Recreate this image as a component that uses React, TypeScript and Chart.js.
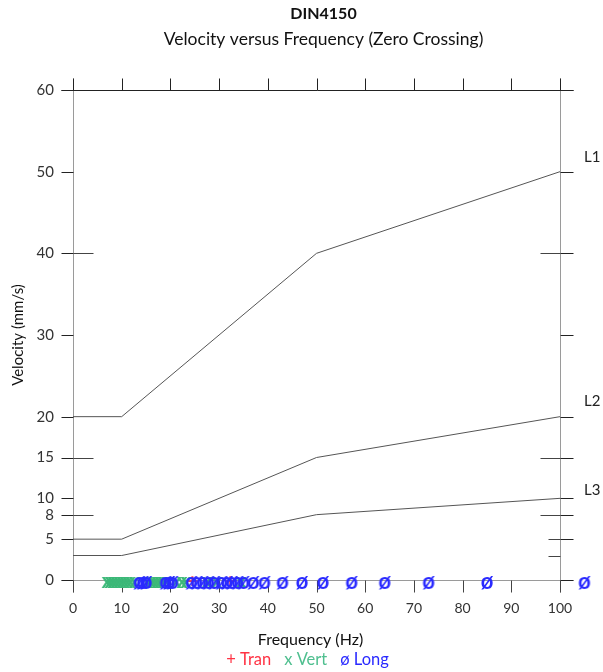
import React, { useEffect, useRef } from 'react';
import { Chart, registerables } from 'chart.js';

Chart.register(...registerables);

const FONT = 'Lato';

const FREQ_BREAKS = [0, 10, 50, 100];
const L1 = [20, 20, 40, 50];
const L2 = [5, 5, 15, 20];
const L3 = [3, 3, 8, 10];
const LIMIT_NAMES = ['L1', 'L2', 'L3'];

const Y_TICKS = [0, 5, 8, 10, 15, 20, 30, 40, 50, 60];
const X_TICKS = [0, 10, 20, 30, 40, 50, 60, 70, 80, 90, 100];
const INNER_LONG_TICKS = [8, 15, 40];
const RIGHT_SHORT_TICKS = [3, 5];

const TRAN_FREQ = [24.5, 32.3];
const VERT_FREQ = [7, 7.6, 8.2, 8.8, 9.4, 10, 10.6, 11.2, 11.8, 12.6, 15.2, 16, 16.6, 17.2, 17.8, 18.4, 19.2, 21.2, 22.4, 23.2, 27.5, 29.5, 34.5];
const LONG_FREQ = [13.6, 14.3, 15, 19, 19.7, 20.4, 24.3, 25.4, 26.6, 27.8, 29, 30.5, 31.6, 32.6, 33.8, 35, 37, 39.3, 43, 47, 51.3, 57.2, 64, 73, 85, 105];

const TRAN_COLOR = '#ff3344';
const VERT_COLOR = '#3cb878';
const LONG_COLOR = '#2a2aff';

function makeGlyph(ch: string, color: string, font: string, dy: number) {
  const c = document.createElement('canvas');
  c.width = 20;
  c.height = 26;
  const g = c.getContext('2d')!;
  g.font = font;
  g.fillStyle = color;
  g.textAlign = 'center';
  g.textBaseline = 'middle';
  g.fillText(ch, 10, 13 + dy);
  return c;
}

const framePlugin = {
  id: 'frame',
  beforeDatasetsDraw(chart: any) {
    const ctx = chart.ctx;
    const xs = chart.scales.x;
    const ys = chart.scales.y;
    const r = (v: number) => Math.round(v) + 0.5;
    const left = r(xs.getPixelForValue(0));
    const right = r(xs.getPixelForValue(100));
    const top = r(ys.getPixelForValue(60));
    const bottom = r(ys.getPixelForValue(0));
    const line = (x1: number, y1: number, x2: number, y2: number, color: string) => {
      ctx.beginPath();
      ctx.strokeStyle = color;
      ctx.lineWidth = 1;
      ctx.moveTo(x1, y1);
      ctx.lineTo(x2, y2);
      ctx.stroke();
    };
    ctx.save();
    const gray = '#9a9a9a';
    const dark = '#222';
    line(left, top - 12, left, bottom + 12, gray);
    line(right, top - 12, right, bottom + 12, gray);
    line(left - 12, bottom, right + 13, bottom, gray);
    line(left - 12, top, right + 13, top, dark);
    X_TICKS.forEach((v) => {
      const px = r(xs.getPixelForValue(v));
      line(px, bottom, px, bottom + 12, '#444');
      if (v !== 0 && v !== 100) line(px, top, px, top - 12, dark);
    });
    line(left, top, left, top - 12, dark);
    line(right, top, right, top - 12, dark);
    Y_TICKS.forEach((v) => {
      const py = r(ys.getPixelForValue(v));
      line(left - 12, py, left, py, dark);
      line(right, py, right + 13, py, dark);
    });
    INNER_LONG_TICKS.forEach((v) => {
      const py = r(ys.getPixelForValue(v));
      line(left, py, left + 20, py, '#444');
      line(right - 20, py, right, py, '#444');
    });
    RIGHT_SHORT_TICKS.forEach((v) => {
      const py = r(ys.getPixelForValue(v));
      line(right - 12, py, right, py, '#444');
    });
    ctx.restore();
  },
  afterDraw(chart: any) {
    const ctx = chart.ctx;
    const xs = chart.scales.x;
    const ys = chart.scales.y;
    const ca = chart.chartArea;
    const cx = (ca.left + ca.right) / 2;
    ctx.save();
    ctx.textBaseline = 'middle';
    ctx.textAlign = 'center';
    ctx.fillStyle = '#111';
    ctx.font = `bold 16px ${FONT}`;
    ctx.fillText('DIN4150', cx + 7, 14);
    ctx.font = `17.5px ${FONT}`;
    ctx.fillText('Velocity versus Frequency (Zero Crossing)', cx + 7, 39);
    ctx.font = `16px ${FONT}`;
    ctx.fillText('Frequency (Hz)', cx - 6, 640);

    ctx.font = `16.5px ${FONT}`;
    const items = [
      { t: '+ Tran', c: TRAN_COLOR },
      { t: 'x Vert', c: '#4fbf8f' },
      { t: '\u00f8 Long', c: LONG_COLOR },
    ];
    const gap = 13;
    const widths = items.map((it) => ctx.measureText(it.t).width);
    const total = widths.reduce((a, b) => a + b, 0) + gap * (items.length - 1);
    let x = cx - 9 - total / 2;
    ctx.textAlign = 'left';
    items.forEach((it, i) => {
      ctx.fillStyle = it.c;
      ctx.fillText(it.t, x, 660);
      x += widths[i] + gap;
    });

    const ends = [L1, L2, L3].map((a) => a[a.length - 1]);
    const offs = [15, 16, 8];
    ctx.fillStyle = '#222';
    ctx.font = `15px ${FONT}`;
    ends.forEach((v, i) => {
      ctx.fillText(LIMIT_NAMES[i], xs.getPixelForValue(100) + 24, ys.getPixelForValue(v) - offs[i]);
    });
    ctx.restore();
  },
};

export default function App() {
  const ref = useRef<HTMLCanvasElement>(null);

  useEffect(() => {
    const canvas = ref.current!;
    const plusImg = makeGlyph('+', TRAN_COLOR, `bold 19px ${FONT}`, 2);
    const xImg = makeGlyph('x', VERT_COLOR, `bold 21px ${FONT}`, 1);
    const oImg = makeGlyph('\u00f8', LONG_COLOR, `bold 22px ${FONT}`, 2);

    const lineDs = (data: number[]) => ({
      type: 'line' as const,
      data: FREQ_BREAKS.map((f, i) => ({ x: f, y: data[i] })),
      borderColor: '#555',
      borderWidth: 1,
      pointRadius: 0,
      fill: false,
      tension: 0,
    });
    // large radius widens the in-area margin so points just beyond 100 Hz are still drawn;
    // the glyph image keeps its own size.
    const scatterDs = (freqs: number[], img: HTMLCanvasElement, label: string) => ({
      type: 'scatter' as const,
      label,
      data: freqs.slice().reverse().map((f) => ({ x: f, y: 0 })),
      pointStyle: img,
      pointRadius: 40,
      pointBorderWidth: 0,
      clip: false,
    });

    const chart = new Chart(canvas, {
      type: 'scatter',
      data: {
        datasets: [
          scatterDs(LONG_FREQ, oImg, 'Long'),
          scatterDs(TRAN_FREQ, plusImg, 'Tran'),
          scatterDs(VERT_FREQ, xImg, 'Vert'),
          lineDs(L1),
          lineDs(L2),
          lineDs(L3),
        ] as any,
      },
      options: {
        animation: false,
        responsive: false,
        devicePixelRatio: 1,
        layout: { padding: { left: 0, right: 43, top: 90, bottom: 0 } },
        plugins: {
          legend: { display: false },
          tooltip: { enabled: false },
          title: { display: false },
        },
        scales: {
          x: {
            type: 'linear',
            min: 0,
            max: 100,
            afterFit: (s: any) => {
              s.height = 92;
            },
            grid: { display: true, drawOnChartArea: false, drawTicks: true, tickLength: 12, color: 'rgba(0,0,0,0)' },
            border: { display: false },
            ticks: {
              stepSize: 10,
              padding: 8,
              color: '#333',
              font: { family: FONT, size: 14 },
              maxRotation: 0,
            },
          },
          y: {
            type: 'linear',
            min: 0,
            max: 60,
            afterBuildTicks: (s: any) => {
              s.ticks = Y_TICKS.map((v) => ({ value: v }));
            },
            afterFit: (s: any) => {
              s.width = 73;
            },
            grid: { display: true, drawOnChartArea: false, drawTicks: true, tickLength: 12, color: 'rgba(0,0,0,0)' },
            border: { display: false },
            title: {
              display: true,
              text: 'Velocity (mm/s)',
              color: '#111',
              font: { family: FONT, size: 15 },
              padding: { top: 9, bottom: 0 },
            },
            ticks: {
              padding: 7,
              color: '#333',
              font: { family: FONT, size: 15 },
              autoSkip: false,
            },
          },
        },
      },
      plugins: [framePlugin],
    });
    return () => chart.destroy();
  }, []);

  return (
    <div style={{ position: 'fixed', left: 0, top: 0, width: 603, height: 672, background: '#fff' }}>
      <canvas ref={ref} width={603} height={672} style={{ width: 603, height: 672, display: 'block' }} />
    </div>
  );
}
